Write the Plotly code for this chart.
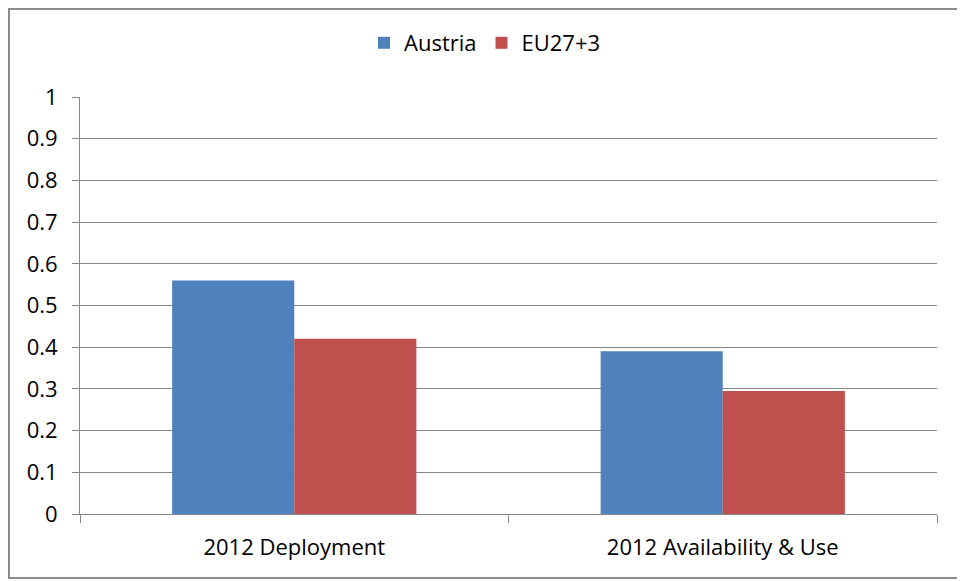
import plotly.graph_objects as go

categories = ['2012 Deployment', '2012 Availability & Use']
austria = [0.56, 0.39]
eu27 = [0.42, 0.295]
y_ticks = [0, 0.1, 0.2, 0.3, 0.4, 0.5, 0.6, 0.7, 0.8, 0.9, 1]
y_labels = ['0', '0.1', '0.2', '0.3', '0.4', '0.5', '0.6', '0.7', '0.8', '0.9', '1']

# page body has an 8px margin, so the figure is shrunk to fit the window
W, H = 957, 573
ml, mr, mt, mb = 72, 28, 89, 67
font = 'Open Sans, sans-serif'

fig = go.Figure()
fig.add_trace(go.Bar(name='Austria', x=categories, y=austria, marker_color='#4F81BD',
                     marker_line_width=0))
fig.add_trace(go.Bar(name='EU27+3', x=categories, y=eu27, marker_color='#C0504D',
                     marker_line_width=0))

pw = W - ml - mr
ph = H - mt - mb
# outer chart border
fig.add_shape(type='rect', xref='paper', yref='paper',
              x0=(1 - ml) / pw, x1=(955 - ml) / pw,
              y0=-(570 - mt - ph) / ph, y1=1 + (mt - 1) / ph,
              line=dict(color='#8c8c8c', width=2), layer='below')

fig.update_layout(
    width=W, height=H,
    margin=dict(l=ml, r=mr, t=mt, b=mb),
    paper_bgcolor='white', plot_bgcolor='white',
    barmode='group', bargap=0.43, bargroupgap=0,
    font=dict(family=font, size=22, color='black'),
    legend=dict(orientation='h', x=(477 - ml) / pw, xanchor='center',
                y=1 + 54 / ph, yanchor='middle',
                font=dict(size=22), traceorder='normal'),
    showlegend=True,
)
fig.update_xaxes(showline=True, linecolor='#868686', linewidth=1,
                 ticks='outside', tickson='boundaries', ticklen=8, tickcolor='#868686',
                 ticklabelstandoff=14, tickfont=dict(size=22))
fig.update_yaxes(range=[0, 1], tickvals=y_ticks, ticktext=y_labels,
                 showgrid=True, gridcolor='#868686', gridwidth=1,
                 showline=True, linecolor='#868686', linewidth=1,
                 ticks='outside', ticklen=7, tickcolor='#868686',
                 ticklabelstandoff=10, tickfont=dict(size=22), zeroline=False)

fig.write_html('out.html')
